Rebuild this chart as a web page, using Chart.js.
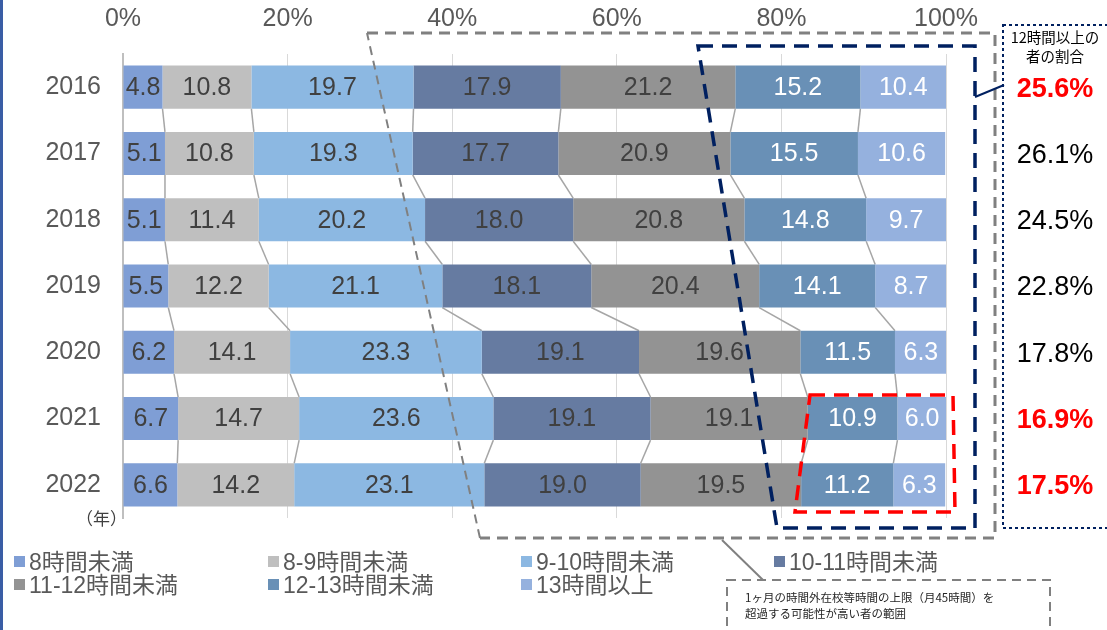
<!DOCTYPE html>
<html lang="ja">
<head>
<meta charset="utf-8">
<script src="https://cdn.jsdelivr.net/npm/chart.js@4.4.0/dist/chart.umd.min.js"></script>
<style>
  body { margin: 0; background: #fff; }
  #wrap { position: relative; width: 1107px; height: 630px; overflow: hidden;
          font-family: "Liberation Sans", Arial, "Noto Sans CJK JP", sans-serif; }
  #wrap canvas { position: absolute; left: 0; top: 0; }
  #borde { position: absolute; left: 0; top: 0; width: 3px; height: 630px; background: #3A5DA5; }
  .leyenda { position: absolute; font-size: 23px; color: #595959; white-space: nowrap; line-height: 23px; }
  .leyenda i { display: inline-block; width: 11px; height: 11px; margin-right: 4px; vertical-align: 3px; }
  #anio { position: absolute; left: 76px; top: 505px; font-size: 17px; color: #404040; font-family: "Noto Sans CJK JP", sans-serif; }
  #titulo { position: absolute; left: 1005px; top: 27px; width: 100px; text-align: center;
            font-size: 14.5px; line-height: 19px; color: #000; font-family: "Noto Sans CJK JP", sans-serif; }
  #nota { position: absolute; left: 745px; top: 589px; font-size: 11.5px; line-height: 16px; color: #262626;
          font-family: "Noto Sans CJK JP", sans-serif; white-space: nowrap; }
</style>
</head>
<body>
<div id="wrap">
  <canvas id="grafica" width="1107" height="630"></canvas>
  <div id="borde"></div>
  <div id="anio">（年）</div>
  <div id="titulo">12時間以上の<br>者の割合</div>
  <div id="nota">1ヶ月の時間外在校等時間の上限（月45時間）を<br>超過する可能性が高い者の範囲</div>
  <div id="leyendas"></div>
</div>
<script>
// === DATOS ===
const anios = ["2016", "2017", "2018", "2019", "2020", "2021", "2022"];

const menos8   = [4.8, 5.1, 5.1, 5.5, 6.2, 6.7, 6.6];
const de8a9    = [10.8, 10.8, 11.4, 12.2, 14.1, 14.7, 14.2];
const de9a10   = [19.7, 19.3, 20.2, 21.1, 23.3, 23.6, 23.1];
const de10a11  = [17.9, 17.7, 18.0, 18.1, 19.1, 19.1, 19.0];
const de11a12  = [21.2, 20.9, 20.8, 20.4, 19.6, 19.1, 19.5];
const de12a13  = [15.2, 15.5, 14.8, 14.1, 11.5, 10.9, 11.2];
const mas13    = [10.4, 10.6, 9.7, 8.7, 6.3, 6.0, 6.3];

// 12時間以上の者の割合
const ratio12  = [25.6, 26.1, 24.5, 22.8, 17.8, 16.9, 17.5];
const resaltar = [true, false, false, false, false, true, true];

const nombres = ["8時間未満", "8-9時間未満", "9-10時間未満", "10-11時間未満",
                 "11-12時間未満", "12-13時間未満", "13時間以上"];
const series  = [menos8, de8a9, de9a10, de10a11, de11a12, de12a13, mas13];
const colores = ["#7F9ED5", "#BFBFBF", "#8CB8E2", "#667BA1", "#939393", "#6990B6", "#95B1DE"];
const colorTexto = ["#404040", "#404040", "#404040", "#404040", "#404040", "#FFFFFF", "#FFFFFF"];

const ticksX = [0, 20, 40, 60, 80, 100];

const fuente = '"Liberation Sans", Arial, "Noto Sans CJK JP", sans-serif';

// --- Leyenda en HTML (4 columnas) ---
const colX = [14, 268, 521, 774];
const filaY = [551, 574];
const leyendas = document.getElementById("leyendas");
nombres.forEach((n, i) => {
  const d = document.createElement("div");
  d.className = "leyenda";
  d.style.left = colX[i % 4] + "px";
  d.style.top = filaY[Math.floor(i / 4)] + "px";
  d.innerHTML = `<i style="background:${colores[i]}"></i>${n}`;
  leyendas.appendChild(d);
});

// === Etiquetas de valor dentro de cada barra ===
const etiquetas = {
  id: "etiquetas",
  afterDatasetsDraw(chart) {
    const ctx = chart.ctx;
    ctx.save();
    ctx.font = "25px " + fuente;
    ctx.textAlign = "center";
    ctx.textBaseline = "middle";
    chart.data.datasets.forEach((ds, k) => {
      chart.getDatasetMeta(k).data.forEach((bar, i) => {
        ctx.fillStyle = colorTexto[k];
        ctx.fillText(ds.data[i].toFixed(1), (bar.x + bar.base) / 2, bar.y + 1);
      });
    });
    ctx.restore();
  }
};

// === Líneas de serie entre barras ===
const lineasSerie = {
  id: "lineasSerie",
  beforeDatasetsDraw(chart) {
    const ctx = chart.ctx;
    ctx.save();
    ctx.strokeStyle = "#A6A6A6";
    ctx.lineWidth = 1.5;
    for (let k = 0; k < series.length - 1; k++) {
      const barras = chart.getDatasetMeta(k).data;
      for (let i = 0; i < barras.length - 1; i++) {
        const a = barras[i], b = barras[i + 1];
        ctx.beginPath();
        ctx.moveTo(a.x, a.y + a.height / 2);
        ctx.lineTo(b.x, b.y - b.height / 2);
        ctx.stroke();
      }
    }
    ctx.restore();
  }
};

// === Marcos punteados y porcentajes a la derecha ===
function poligono(ctx, puntos, color, ancho, guion, cerrar) {
  ctx.beginPath();
  ctx.strokeStyle = color;
  ctx.lineWidth = ancho;
  ctx.setLineDash(guion);
  puntos.forEach((p, i) => i === 0 ? ctx.moveTo(p[0], p[1]) : ctx.lineTo(p[0], p[1]));
  if (cerrar) ctx.closePath();
  ctx.stroke();
}

const marcos = {
  id: "marcos",
  afterDraw(chart) {
    const ctx = chart.ctx;
    const y = chart.scales.y;
    ctx.save();

    // rango gris
    poligono(ctx, [[367, 33], [995, 33], [995, 538], [480, 538]], "#808080", 3, [11, 7], false);
    poligono(ctx, [[480, 538], [367, 33]], "#808080", 2, [9, 6], false);
    poligono(ctx, [[722, 540], [763, 580]], "#808080", 2, [], false);
    // caja de la nota
    poligono(ctx, [[727, 580], [1050, 580], [1050, 640], [727, 640]], "#808080", 2, [9, 6], true);

    // rango azul marino
    poligono(ctx, [[698, 46], [975, 46], [975, 528], [777, 528]], "#002060", 3.5, [15, 9], true);
    poligono(ctx, [[975, 97], [1004, 85]], "#002060", 2, [], false);

    // rango rojo
    poligono(ctx, [[810, 395], [953, 395], [955, 512], [795, 512]], "#FF0000", 3.5, [15, 9], true);

    // caja derecha
    poligono(ctx, [[1003, 25], [1125, 25], [1125, 528], [1003, 528]], "#002060", 2, [3, 3], true);

    // porcentajes
    ctx.setLineDash([]);
    ctx.textAlign = "center";
    ctx.textBaseline = "middle";
    ratio12.forEach((v, i) => {
      ctx.font = (resaltar[i] ? "bold " : "") + "27px " + fuente;
      ctx.fillStyle = resaltar[i] ? "#FF0000" : "#000000";
      ctx.fillText(v.toFixed(1) + "%", 1055, y.getPixelForValue(i) + 2);
    });
    ctx.restore();
  }
};

// === GRÁFICO DE BARRAS APILADAS ===
const ctx = document.getElementById("grafica").getContext("2d");
new Chart(ctx, {
  type: "bar",
  data: {
    labels: anios,
    datasets: series.map((s, k) => ({
      label: nombres[k],
      data: s,
      backgroundColor: colores[k],
      borderWidth: 0,
      barPercentage: 0.65,
      categoryPercentage: 1
    }))
  },
  options: {
    indexAxis: "y",
    responsive: false,
    devicePixelRatio: 1,
    animation: false,
    layout: { padding: { left: 0, top: 0, right: 161, bottom: 112 } },
    plugins: {
      legend: { display: false },
      tooltip: { enabled: false }
    },
    scales: {
      x: {
        position: "top",
        stacked: true,
        min: 0,
        max: 100,
        afterFit: s => { s.height = 54; },
        afterBuildTicks: s => { s.ticks = ticksX.map(v => ({ value: v })); },
        ticks: {
          callback: v => v + "%",
          font: { size: 25, family: fuente },
          color: "#595959",
          padding: 20,
          maxRotation: 0
        },
        grid: { color: "#D9D9D9", lineWidth: 1, drawTicks: false },
        border: { display: false }
      },
      y: {
        stacked: true,
        afterFit: s => { s.width = 123; },
        ticks: {
          font: { size: 25, family: fuente },
          color: "#595959",
          padding: 22
        },
        grid: { display: false, drawTicks: false },
        border: { color: "#BFBFBF", width: 2 }
      }
    }
  },
  plugins: [lineasSerie, etiquetas, marcos]
});
</script>
</body>
</html>
